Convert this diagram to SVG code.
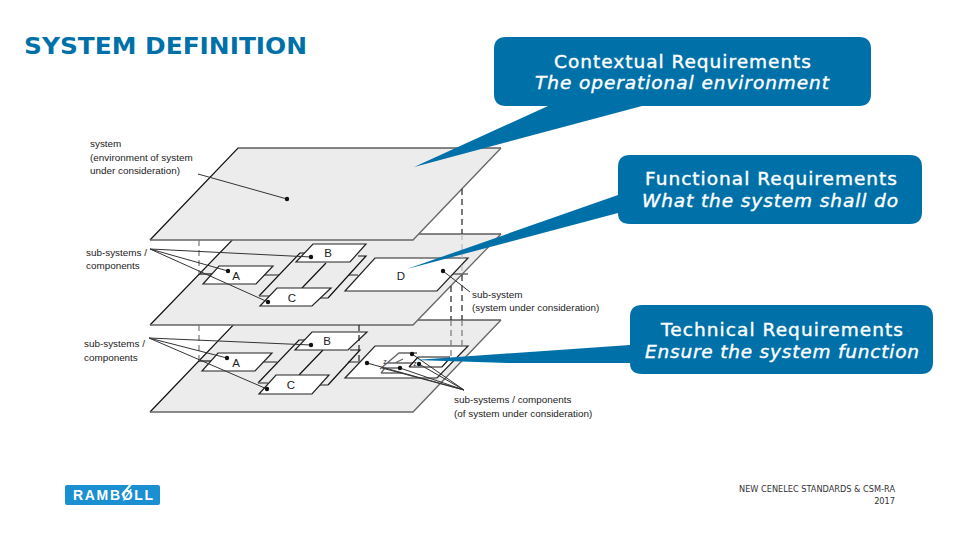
<svg xmlns="http://www.w3.org/2000/svg" width="960" height="540" viewBox="0 0 960 540">
<style>
.plate{fill:#ececec;stroke:none}
.e1{fill:none;stroke:#111;stroke-width:1.2}
.e2{fill:none;stroke:#666;stroke-width:1.3}
.box{fill:#fff;stroke:#222;stroke-width:1.2}
.ld{stroke:#333;stroke-width:1;fill:none}
.dash{stroke:#222;stroke-width:1.2;stroke-dasharray:6 4;fill:none}
.dashg{stroke:#777;stroke-width:1.2;stroke-dasharray:6 4;fill:none}
.dashf{stroke:#bbb;stroke-width:1.2;stroke-dasharray:6 4;fill:none}
.dot{fill:#111}
.lab{font-family:"Liberation Sans",Arial,sans-serif;font-size:9.9px;fill:#222}
.let{font-family:"Liberation Sans",Arial,sans-serif;font-size:11.5px;fill:#222;text-anchor:middle}
.bub{fill:#0071a8}
.t{font-family:"DejaVu Sans",Verdana,sans-serif;font-size:18.5px;fill:#fff;stroke:#fff;stroke-width:.4}
.i{font-style:italic}
</style>
<rect width="960" height="540" fill="#fff"/>
<text id="title" x="24" y="54" font-family="'DejaVu Sans',Verdana,sans-serif" font-size="23" font-weight="700" fill="#0071a8" textLength="283" lengthAdjust="spacingAndGlyphs">SYSTEM DEFINITION</text>

<g id="plate-bottom">
<polygon class="plate" points="238,320 501,320 413,412 150,412"/>
<path class="e1" d="M150,412L238,320H501"/><path class="e2" d="M501,320L413,412H150"/>
</g>
<g id="plate-middle">
<polygon class="plate" points="238,234 501,234 413,325 150,325"/>
<path class="e1" d="M150,325L238,234H501"/><path class="e2" d="M501,234L413,325H150"/>
</g>
<g id="plate-top">
<polygon class="plate" points="238,148 501,148 413,240 150,240"/>
<path class="e1" d="M150,240L238,148H501"/><path class="e2" d="M501,148L413,240H150"/>
</g>

<g id="mid-substructure">
<path class="e1" d="M199,274H213"/>
<path class="e2" d="M263,275H279M349,275H358M450,274H468"/>
<path class="e1" d="M259,296L300,253H347M326,263L302,288M358,256H366L328,298"/>
<path class="e2" d="M259,296H270M328,298H320"/>
</g>
<g id="node-mid-B"><polygon class="box" points="296,262 313,244 366,244 350,262"/><text class="let" x="328" y="257">B</text></g>
<g id="node-mid-A"><polygon class="box" points="203,284 219,266 273,266 256,284"/><text class="let" x="236" y="280">A</text></g>
<g id="node-mid-C"><polygon class="box" points="260,306 277,288 331,288 312,306"/><text class="let" x="292" y="302">C</text></g>
<g id="node-mid-D"><polygon class="box" points="345,291 375,258 468,258 437,291"/><text class="let" x="401" y="280">D</text></g>

<g id="bot-substructure">
<path class="e1" d="M198,361H211"/>
<path class="e2" d="M263,362H277M348,362H383"/>
<path class="e1" d="M258,383L299,340H350M323,350L299,375M350,350H360L328,385"/>
<path class="e2" d="M258,383H268M328,385H320"/>
</g>
<g id="node-bot-B"><polygon class="box" points="295,350 312,332 367,332 348,350"/><text class="let" x="327" y="345">B</text></g>
<g id="node-bot-A"><polygon class="box" points="202,371 218,353 272,353 255,371"/><text class="let" x="236" y="367">A</text></g>
<g id="node-bot-C"><polygon class="box" points="259,394 276,375 329,375 312,394"/><text class="let" x="291" y="389">C</text></g>
<g id="node-bot-D"><polygon class="box" points="345,378 375,346 468,346 437,378"/></g>
<g id="sub-parts">
<path class="e2" d="M380,369L399,353H417M381,373L385,368H400M387,363H413M395,363L403,359M381,373H402"/>
<path class="e1" d="M409,367L418,357H450M409,367H442L450,358"/>
<text class="let" x="385" y="364" style="font-size:7px">z</text>
<text class="let" x="415" y="366" style="font-size:7px">z</text>
</g>

<g id="connectors">
<path class="dashg" d="M199,240V274M199,325V361"/>
<path class="dash" d="M462,189V234M462,275V320M451,286V320M359,325V363"/>
<path class="dashf" d="M462,234V258M462,265V275"/>
<path class="dashg" d="M462,320V346M451,320V357"/>
<path class="ld" d="M198,174L287,199"/>
<path class="ld" d="M150,249L311,257M150,249L228,271M150,249L268,302"/>
<path class="ld" d="M443,271L470,292"/>
<path class="ld" d="M149,338L311,345M149,338L227,358M149,338L267,389"/>
<path class="ld" d="M464,390L367,363M464,390L400,368M464,390L412,354M464,390L419,364M464,390L382,368"/>
<g class="dot">
<circle cx="287" cy="199" r="2.2"/><circle cx="311" cy="257" r="2.2"/><circle cx="228" cy="271" r="2.2"/><circle cx="268" cy="302" r="2.2"/><circle cx="443" cy="271" r="2.2"/>
<circle cx="311" cy="345" r="2.2"/><circle cx="227" cy="358" r="2.2"/><circle cx="267" cy="389" r="2.2"/>
<circle cx="412" cy="354" r="2.2"/><circle cx="419" cy="364" r="2.2"/><circle cx="367" cy="363" r="2.2"/><circle cx="400" cy="368" r="2.2"/>
</g>
</g>

<g id="labels">
<text class="lab" x="90" y="147">system</text>
<text class="lab" x="90" y="161">(environment of system</text>
<text class="lab" x="90" y="174">under consideration)</text>
<text class="lab" x="86" y="256">sub-systems /</text>
<text class="lab" x="86" y="269">components</text>
<text class="lab" x="472" y="298">sub-system</text>
<text class="lab" x="472" y="311">(system under consideration)</text>
<text class="lab" x="84" y="347">sub-systems /</text>
<text class="lab" x="84" y="361">components</text>
<text class="lab" x="454" y="403">sub-systems / components</text>
<text class="lab" x="454" y="417">(of system under consideration)</text>
</g>

<g id="callout-contextual">
<path class="bub" d="M506,37H859Q871,37 871,49V94Q871,106 859,106H642L414,167L548,106H506Q494,106 494,94V49Q494,37 506,37Z"/>
<text class="t" x="554" y="68" textLength="257">Contextual Requirements</text>
<text class="t i" x="535" y="89" textLength="294">The operational environment</text>
</g>
<g id="callout-functional">
<path class="bub" d="M630,155H910Q922,155 922,167V212Q922,224 910,224H630Q618,224 618,213L407,269L618,195V167Q618,155 630,155Z"/>
<text class="t" x="645" y="185" textLength="252">Functional Requirements</text>
<text class="t i" x="642" y="207" textLength="256">What the system shall do</text>
</g>
<g id="callout-technical">
<path class="bub" d="M642,305H921Q933,305 933,317V362Q933,374 921,374H642Q630,374 630,363L508,363L415,360L630,345V317Q630,305 642,305Z"/>
<text class="t" x="661" y="336" textLength="242">Technical Requirements</text>
<text class="t i" x="645" y="358" textLength="274">Ensure the system function</text>
</g>

<g id="logo">
<rect x="65" y="485" width="95" height="20" rx="2" fill="#1a8fd1"/>
<text x="73" y="500" font-family="'Liberation Sans',sans-serif" font-size="14" font-weight="700" fill="#fff" textLength="80">RAMBØLL</text>
<path d="M132,483L122,495" stroke="#fff" stroke-width="2" fill="none"/>
</g>
<g id="footer" font-family="'DejaVu Sans',Verdana,sans-serif" font-size="8.2" fill="#333" text-anchor="end">
<text x="895" y="492">NEW CENELEC STANDARDS &amp; CSM-RA</text>
<text x="895" y="504">2017</text>
</g>
</svg>
